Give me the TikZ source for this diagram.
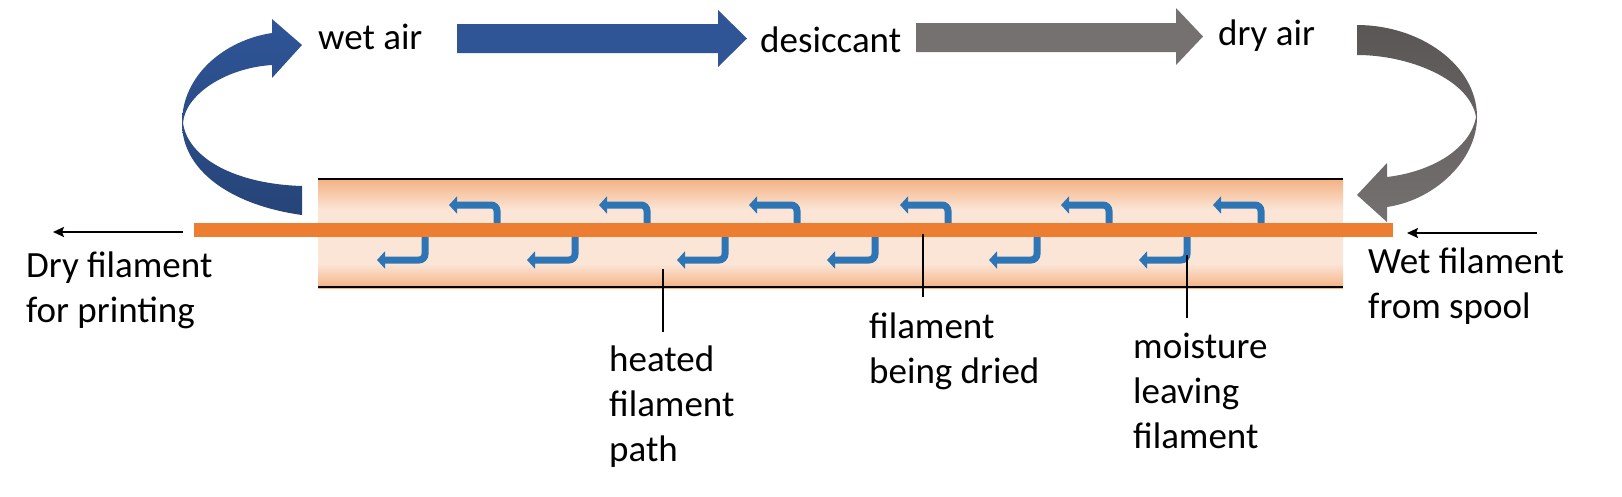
\documentclass[tikz,border=0pt]{standalone}
\usepackage{fontspec}
\setmainfont{Carlito}
\usetikzlibrary{arrows.meta}
\definecolor{airblue}{HTML}{2F5597}
\definecolor{airblued}{HTML}{264478}
\definecolor{airgray}{HTML}{767171}
\definecolor{airgrayd}{HTML}{5A5655}
\definecolor{moist}{HTML}{2E75B6}
\definecolor{fil}{HTML}{ED7D31}
\definecolor{heatd}{HTML}{F4B183}
\definecolor{heatl}{HTML}{FBE5D6}
\pgfdeclareverticalshading{heatshade}{100bp}{color(0bp)=(heatd); color(25bp)=(heatd); color(36bp)=(heatl); color(61bp)=(heatl); color(75bp)=(heatd); color(100bp)=(heatd)}
\begin{document}
\begin{tikzpicture}[x=1pt,y=-1pt,
  lbl/.style={inner sep=0pt, anchor=base west, align=left, font=\fontsize{37}{45}\selectfont},
  moistarrow/.style={draw=moist, line width=7pt, rounded corners=6pt, -{Triangle[length=8pt,width=17pt]}},
  pointer/.style={draw=black, line width=2pt, -{Stealth[length=11pt,width=10pt,inset=2pt]}},
  callout/.style={draw=black, line width=2pt},
  wall/.style={draw=black, line width=2.5pt}
]
\useasboundingbox (0,0) rectangle (1622,496);

% heated chamber
\shade[shading=heatshade] (318,179) rectangle (1343,288);
\draw[wall] (318,179) -- (1343,179);
\draw[wall] (318,287) -- (1343,287);

% moisture leaving the filament
\foreach \u in {497,647,797,948,1109,1261}
  \draw[moistarrow] (\u,226) -- (\u,205) -- (\u-48,205);
\foreach \l in {425,575,725,875,1037,1187}
  \draw[moistarrow] (\l,234) -- (\l,260) -- (\l-48,260);

% filament
\fill[fil] (194,223) rectangle (1393,237);

% straight air arrows
\fill[airblue] (457,24) -- (718,24) -- (718,10) -- (747,38.5) -- (718,67) -- (718,53) -- (457,53) -- cycle;
\fill[airgray] (916,23) -- (1176,23) -- (1176,8) -- (1203,36.5) -- (1176,65) -- (1176,52) -- (916,52) -- cycle;

% curved air arrows
\shade[top color=airblue, bottom color=airblued]
  (302,215) .. controls (230,205) and (182,170) .. (182,123)
  .. controls (182,75) and (225,40) .. (272,33)
  -- (272,19) -- (302,45) -- (272,78) -- (272,65)
  .. controls (225,68) and (185,95) .. (183,123)
  .. controls (188,158) and (235,184) .. (302,186) -- cycle;
\shade[top color=airgrayd, bottom color=airgray]
  (1357,25) .. controls (1420,25) and (1477,65) .. (1477,117)
  .. controls (1477,160) and (1435,200) .. (1387,207)
  -- (1387,222) -- (1357,195) -- (1387,163) -- (1387,177)
  .. controls (1430,172) and (1470,150) .. (1476,117)
  .. controls (1470,80) and (1410,55) .. (1357,55) -- cycle;

% texts (multi-line nodes: base anchor is the baseline of the last line)
\node[lbl] (wet) at (318,49) {wet air};
\node[lbl] (desc) at (760,52) {desiccant};
\node[lbl] (dry) at (1218,45) {dry air};
\node[lbl] (dryfil) at (26,322) {Dry filament\\for printing};
\node[lbl] (wetfil) at (1368,318) {Wet filament\\from spool};
\node[lbl] (heated) at (609,461) {heated\\filament\\path};
\node[lbl] (being) at (869,383) {filament\\being dried};
\node[lbl] (leave) at (1133,448) {moisture\\leaving\\filament};

% in/out pointers
\coordinate (outs) at (183,232);
\coordinate (oute) at (53,232);
\coordinate (ins) at (1537,233);
\coordinate (ine) at (1407,233);
\draw[pointer] (outs) -- (oute);
\draw[pointer] (ins) -- (ine);

% callout lines
\coordinate (h1) at (663,269); \coordinate (h2) at (663,332);
\coordinate (b1) at (923,234); \coordinate (b2) at (923,297);
\coordinate (m1) at (1187,255); \coordinate (m2) at (1187,318);
\draw[callout] (h1) -- (h2);
\draw[callout] (b1) -- (b2);
\draw[callout] (m1) -- (m2);
\end{tikzpicture}
\end{document}
